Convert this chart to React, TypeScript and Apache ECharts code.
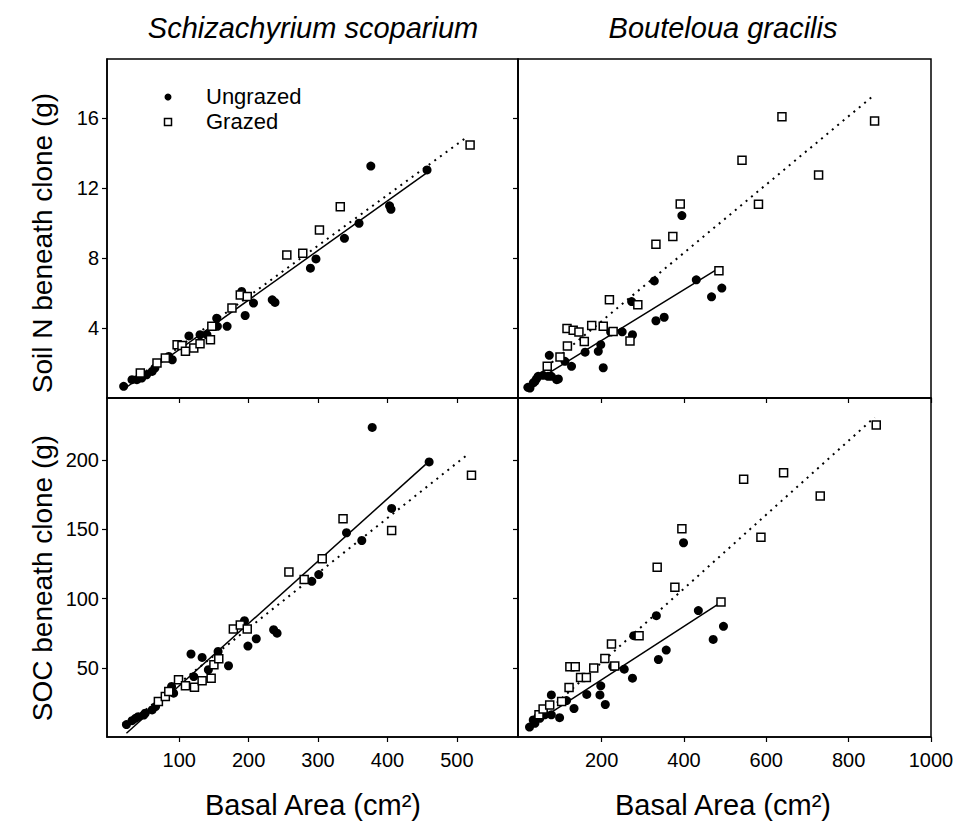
import React, { useEffect, useRef } from "react";
import * as echarts from "echarts";

// ---------- Schizachyrium scoparium : Soil N ----------
const ssNUngrazedArea = [20, 32, 39, 46, 53, 61, 65, 85, 90, 114, 130, 140, 154, 155, 169, 190, 195, 207, 234, 238, 289, 297, 338, 359, 376, 403, 405, 457];
const ssNUngrazedN = [0.67, 1.05, 1.05, 1.14, 1.33, 1.52, 1.71, 2.38, 2.19, 3.55, 3.62, 3.62, 4.57, 4.1, 4.1, 6.1, 4.72, 5.43, 5.62, 5.47, 7.43, 7.96, 9.14, 10.0, 13.27, 11.0, 10.8, 13.05];
const ssNGrazedArea = [44, 68, 80, 97, 104, 109, 121, 130, 145, 147, 176, 188, 198, 255, 278, 302, 332, 519];
const ssNGrazedN = [1.43, 2.0, 2.29, 3.05, 3.0, 2.67, 2.86, 3.1, 3.33, 4.1, 5.15, 5.9, 5.81, 8.19, 8.29, 9.62, 10.95, 14.48];
const ssNFitUngrazed = [[20, 0.5], [457, 12.9]];
const ssNFitGrazed = [[44, 1.3], [515, 14.95]];

// ---------- Schizachyrium scoparium : SOC ----------
const ssSocUngrazedArea = [24, 32, 37, 41, 49, 51, 61, 66, 89, 92, 117, 121, 133, 142, 156, 171, 194, 199, 211, 236, 241, 291, 301, 341, 363, 378, 406, 460];
const ssSocUngrazed = [9, 11.8, 13.5, 14.7, 15.9, 17.2, 19.6, 22, 36.5, 31.7, 60, 43.7, 57.5, 48.6, 61.8, 51.5, 84, 65.7, 71, 77.5, 75, 112.5, 117.4, 147.6, 142, 223.7, 165.2, 198.8];
const ssSocGrazedArea = [70, 80, 85, 99, 109, 122, 133, 146, 150, 157, 178, 188, 198, 258, 280, 306, 336, 406, 521];
const ssSocGrazed = [25.6, 29.2, 32.8, 41.3, 37, 36, 40.6, 42.5, 52.2, 56.5, 78, 81, 78, 119.3, 113.8, 128.8, 157.7, 149.3, 189.1];
const ssSocFitUngrazed = [[24, 2.7], [455, 197]];
const ssSocFitGrazed = [[44, 16.6], [515, 204]];

// ---------- Bouteloua gracilis : Soil N ----------
const bgNUngrazedArea = [21, 26, 34, 38, 42, 46, 58, 70, 73, 78, 91, 95, 111, 127, 160, 192, 198, 204, 222, 250, 273, 275, 328, 332, 352, 395, 430, 467, 492];
const bgNUngrazedN = [0.61, 0.57, 0.86, 0.95, 1.1, 1.24, 1.3, 1.24, 2.44, 1.24, 1.05, 1.09, 2.1, 1.81, 2.62, 2.67, 3.05, 1.73, 3.77, 3.79, 5.52, 3.62, 6.7, 4.42, 4.62, 10.44, 6.76, 5.79, 6.29];
const bgNGrazedArea = [68, 99, 116, 117, 131, 145, 158, 176, 204, 219, 228, 269, 288, 332, 373, 391, 485, 541, 581, 638, 727, 863];
const bgNGrazedN = [1.81, 2.35, 3.98, 2.97, 3.87, 3.77, 3.24, 4.15, 4.1, 5.62, 3.8, 3.26, 5.33, 8.8, 9.24, 11.1, 7.28, 13.6, 11.09, 16.1, 12.76, 15.85];
const bgNFitUngrazed = [[21, 0.7], [488, 7.47]];
const bgNFitGrazed = [[66, 1.78], [860, 17.3]];

// ---------- Bouteloua gracilis : SOC ----------
const bgSocUngrazedArea = [25, 34, 38, 46, 50, 62, 78, 78, 98, 115, 133, 164, 196, 198, 209, 227, 255, 275, 278, 333, 338, 357, 399, 435, 471, 496];
const bgSocUngrazed = [7.2, 12.3, 9.9, 14.7, 13.5, 16, 16, 30.4, 14, 26.3, 20.6, 30.8, 30.4, 37, 23.5, 51, 49, 42.5, 73.2, 87.7, 56, 62.8, 140.4, 91.4, 70.5, 80];
const bgSocGrazedArea = [48, 58, 74, 103, 121, 123, 136, 149, 163, 181, 208, 224, 232, 291, 335, 378, 395, 490, 545, 587, 642, 731, 867];
const bgSocGrazed = [16, 20.2, 23.2, 25.6, 35.8, 50.7, 50.7, 43, 43, 49.8, 56.7, 67.3, 51.4, 73.2, 122.7, 108.3, 150.5, 97.5, 186.2, 144.4, 191, 174.1, 225.4];
const bgSocFitUngrazed = [[30, 8.5], [488, 96.9]];
const bgSocFitGrazed = [[66, 18], [863, 231]];

// ---------- ticks & text ----------
const ssXTicks = [100, 200, 300, 400, 500];
const bgXTicks = [200, 400, 600, 800, 1000];
const nTicks = [4, 8, 12, 16];
const socTicks = [50, 100, 150, 200];
const speciesTitles = ["Schizachyrium scoparium", "Bouteloua gracilis"];
const yTitles = ["Soil N beneath clone (g)", "SOC beneath clone (g)"];
const xTitle = "Basal Area (cm²)";
const legendNames = ["Ungrazed", "Grazed"];

const FONT = "'Liberation Sans', Arial, Helvetica, sans-serif";

const zip = (xs: number[], ys: number[]) => xs.map((x, i) => [x, ys[i]]);
const plain = (v: number) => String(v);

function makeX(gridIndex: number, min: number, max: number, ticks: number[], showLabels: boolean) {
  return {
    type: "value",
    gridIndex,
    min,
    max,
    splitLine: { show: false },
    axisLine: { show: true, onZero: false, lineStyle: { color: "#000", width: 1.5 } },
    axisTick: { show: true, inside: false, length: 5, customValues: ticks, lineStyle: { color: "#000", width: 1.2 } },
    axisLabel: { show: showLabels, customValues: ticks, formatter: plain, fontSize: 20, color: "#000", fontFamily: FONT, margin: 13 },
  };
}

function makeY(gridIndex: number, min: number, max: number, ticks: number[], showLabels: boolean) {
  return {
    type: "value",
    gridIndex,
    min,
    max,
    splitLine: { show: false },
    axisLine: { show: true, onZero: false, lineStyle: { color: "#000", width: 1.5 } },
    axisTick: { show: true, inside: false, length: 5, customValues: ticks, lineStyle: { color: "#000", width: 1.2 } },
    axisLabel: { show: showLabels, customValues: ticks, formatter: plain, fontSize: 20, color: "#000", fontFamily: FONT, margin: 8 },
  };
}

function panelSeries(idx: number, ung: number[][], gr: number[][], fitU: number[][], fitG: number[][]) {
  return [
    {
      type: "line", xAxisIndex: idx, yAxisIndex: idx, data: fitU, symbol: "none", silent: true, z: 2,
      lineStyle: { color: "#000", width: 1.5, type: "solid", opacity: 1 },
    },
    {
      type: "line", xAxisIndex: idx, yAxisIndex: idx, data: fitG, symbol: "none", silent: true, z: 2,
      lineStyle: { color: "#000", width: 2, type: [2, 5], opacity: 1 },
    },
    {
      name: legendNames[0], type: "scatter", xAxisIndex: idx, yAxisIndex: idx, data: ung, symbol: "circle", symbolSize: 9, z: 3,
      itemStyle: { color: "#000", opacity: 1 },
    },
    {
      name: legendNames[1], type: "scatter", xAxisIndex: idx, yAxisIndex: idx, data: gr, symbol: "rect", symbolSize: 8, z: 4,
      itemStyle: { color: "#fff", borderColor: "#000", borderWidth: 1.5, opacity: 1 },
    },
  ];
}

export default function App() {
  const ref = useRef<HTMLDivElement>(null);

  useEffect(() => {
    if (!ref.current) return;
    const chart = echarts.init(ref.current, null, { renderer: "svg" });
    const gridBase = { show: true, borderColor: "#000", borderWidth: 1.5, backgroundColor: "transparent", containLabel: false };
    const titleStyle = { fontSize: 29, fontStyle: "italic", fontFamily: FONT, fill: "#000", textAlign: "center", textVerticalAlign: "middle" };
    const yTitleStyle = { fontSize: 28, fontFamily: FONT, fill: "#000", textAlign: "center", textVerticalAlign: "middle" };
    const xTitleStyle = { fontSize: 29, fontFamily: FONT, fill: "#000", textAlign: "center", textVerticalAlign: "middle" };
    const option = {
      animation: false,
      backgroundColor: "#fff",
      grid: [
        { ...gridBase, left: 107, top: 59, width: 411, height: 339 },
        { ...gridBase, left: 518, top: 59, width: 413, height: 339 },
        { ...gridBase, left: 107, top: 398, width: 411, height: 339 },
        { ...gridBase, left: 518, top: 398, width: 413, height: 339 },
      ],
      xAxis: [
        makeX(0, -4, 588, ssXTicks, false),
        makeX(1, -3, 1000, bgXTicks, false),
        makeX(2, -4, 588, ssXTicks, true),
        makeX(3, -3, 1000, bgXTicks, true),
      ],
      yAxis: [
        makeY(0, 0, 19.4, nTicks, true),
        makeY(1, 0, 19.4, nTicks, false),
        makeY(2, 0, 245, socTicks, true),
        makeY(3, 0, 245, socTicks, false),
      ],
      series: [
        ...panelSeries(0, zip(ssNUngrazedArea, ssNUngrazedN), zip(ssNGrazedArea, ssNGrazedN), ssNFitUngrazed, ssNFitGrazed),
        ...panelSeries(1, zip(bgNUngrazedArea, bgNUngrazedN), zip(bgNGrazedArea, bgNGrazedN), bgNFitUngrazed, bgNFitGrazed),
        ...panelSeries(2, zip(ssSocUngrazedArea, ssSocUngrazed), zip(ssSocGrazedArea, ssSocGrazed), ssSocFitUngrazed, ssSocFitGrazed),
        ...panelSeries(3, zip(bgSocUngrazedArea, bgSocUngrazed), zip(bgSocGrazedArea, bgSocGrazed), bgSocFitUngrazed, bgSocFitGrazed),
      ],
      graphic: [
        { type: "text", x: 313, y: 28, style: { ...titleStyle, text: speciesTitles[0] } },
        { type: "text", x: 723, y: 28, style: { ...titleStyle, text: speciesTitles[1] } },
        { type: "text", x: 42, y: 243, rotation: Math.PI / 2, style: { ...yTitleStyle, text: yTitles[0] } },
        { type: "text", x: 42, y: 578, rotation: Math.PI / 2, style: { ...yTitleStyle, text: yTitles[1] } },
        { type: "text", x: 313, y: 805, style: { ...xTitleStyle, text: xTitle } },
        { type: "text", x: 723, y: 805, style: { ...xTitleStyle, text: xTitle } },
        { type: "circle", shape: { cx: 168, cy: 97, r: 3.5 }, style: { fill: "#000" } },
        { type: "rect", shape: { x: 164.5, y: 118.5, width: 7, height: 7 }, style: { fill: "#fff", stroke: "#000", lineWidth: 1.5 } },
        { type: "text", x: 206, y: 96, style: { text: legendNames[0], fontSize: 22, fontFamily: FONT, fill: "#000", textAlign: "left", textVerticalAlign: "middle" } },
        { type: "text", x: 206, y: 121, style: { text: legendNames[1], fontSize: 22, fontFamily: FONT, fill: "#000", textAlign: "left", textVerticalAlign: "middle" } },
      ],
    };
    chart.setOption(option as any);
    return () => chart.dispose();
  }, []);

  return (
    <div
      ref={ref}
      style={{ position: "absolute", left: 0, top: 0, width: 957, height: 821, background: "#fff" }}
    />
  );
}
